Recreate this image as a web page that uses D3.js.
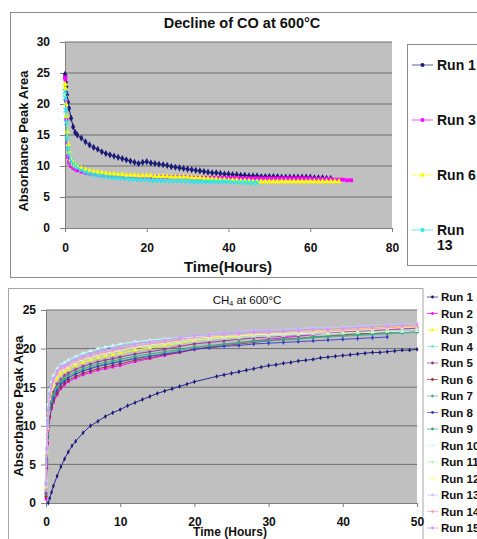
<!DOCTYPE html>
<html>
<head>
<meta charset="utf-8">
<script src="https://d3js.org/d3.v7.min.js"></script>
<style>
  body { margin: 0; background: #fff; }
  svg { display: block; font-family: "Liberation Sans", Arial, sans-serif; }
</style>
</head>
<body>
<div id="chart"></div>
<script>
// ---------- top chart: decline of CO ----------
const coRunNames = ["Run 1", "Run 3", "Run 6", "Run 13"];
const coXTicks = [0, 20, 40, 60, 80];
const coYTicks = [0, 5, 10, 15, 20, 25, 30];

const coTimes = [0, 0.1, 0.2, 0.3, 0.5, 0.75, 1, 1.5, 2, 2.5, 3,
  4, 5, 6, 7, 8, 9, 10, 11, 12, 13,
  14, 15, 16, 17, 18, 19, 20, 21, 22, 23,
  24, 25, 26, 27, 28, 29, 30, 31, 32, 33,
  34, 35, 36, 37, 38, 39, 40, 41, 42, 43,
  44, 45, 46, 47, 48, 49, 50, 51, 52, 53,
  54, 55, 56, 57, 58, 59, 60, 61, 62, 63,
  64, 65, 66, 67, 68, 69, 70, 71];

const coRun1 = [24.8, 24.5, 23.5, 22.8, 21.5, 20.3, 19.3, 17.7, 16.3, 15.4, 15.0,
  14.5, 13.9, 13.4, 13.0, 12.7, 12.3, 12.0, 11.8, 11.6, 11.4,
  11.2, 11.0, 10.8, 10.6, 10.4, 10.6, 10.7, 10.5, 10.4, 10.3,
  10.2, 10.1, 9.9, 9.8, 9.7, 9.6, 9.5, 9.4, 9.3, 9.2,
  9.1, 9.0, 8.9, 8.9, 8.8, 8.7, 8.7, 8.6, 8.6, 8.5,
  8.5, 8.4, 8.4, 8.4, 8.3, 8.3, 8.3, 8.3, 8.3, 8.2,
  8.2, 8.2, 8.2, 8.2, 8.2, 8.2, 8.2, 8.1, 8.1, 8.1,
  8.0, 8.0];
const coRun3 = [24.3, 24.0, 20.5, 17.5, 13.5, 11.5, 10.6, 10.0, 9.7, 9.5, 9.3,
  9.1, 8.9, 8.8, 8.7, 8.6, 8.5, 8.5, 8.4, 8.4, 8.4,
  8.3, 8.3, 8.3, 8.3, 8.2, 8.2, 8.2, 8.2, 8.2, 8.2,
  8.2, 8.2, 8.2, 8.2, 8.2, 8.2, 8.2, 8.1, 8.1, 8.1,
  8.1, 8.1, 8.1, 8.1, 8.1, 8.1, 8.1, 8.1, 8.1, 8.0,
  8.0, 8.0, 8.0, 8.0, 8.0, 8.0, 8.0, 8.0, 8.0, 8.0,
  8.0, 8.0, 8.0, 8.0, 8.0, 8.0, 8.0, 7.9, 7.9, 7.9,
  7.9, 7.9, 7.8, 7.8, 7.8, 7.7, 7.7];
const coRun6 = [23.2, 22.5, 20.0, 18.0, 15.5, 13.5, 12.3, 11.0, 10.4, 10.1, 9.9,
  9.6, 9.4, 9.2, 9.1, 9.0, 8.9, 8.8, 8.7, 8.7, 8.6,
  8.6, 8.5, 8.5, 8.5, 8.4, 8.4, 8.4, 8.4, 8.3, 8.3,
  8.3, 8.3, 8.2, 8.2, 8.2, 8.2, 8.2, 8.1, 8.1, 8.1,
  8.0, 8.0, 7.9, 7.9, 7.8, 7.8, 7.7, 7.7, 7.7, 7.6,
  7.6, 7.6, 7.5, 7.5, 7.5, 7.5, 7.5, 7.5, 7.5, 7.5,
  7.5, 7.5, 7.5, 7.5, 7.5, 7.5, 7.5, 7.5, 7.5, 7.5,
  7.5, 7.5, 7.5, 7.5];
const coRun13 = [22.0, 21.0, 19.0, 17.0, 14.5, 12.8, 11.8, 10.8, 10.3, 10.0, 9.7,
  9.3, 9.0, 8.8, 8.6, 8.5, 8.4, 8.3, 8.2, 8.1, 8.1,
  8.0, 8.0, 7.9, 7.9, 7.8, 7.8, 7.8, 7.7, 7.7, 7.7,
  7.6, 7.6, 7.6, 7.6, 7.6, 7.6, 7.6, 7.5, 7.5, 7.5,
  7.5, 7.5, 7.5, 7.5, 7.5, 7.5, 7.5, 7.4, 7.4, 7.4,
  7.4, 7.3, 7.3, 7.3];

// ---------- bottom chart: CH4 ----------
const ch4RunNames = ["Run 1", "Run 2", "Run 3", "Run 4", "Run 5", "Run 6", "Run 7", "Run 8",
  "Run 9", "Run 10", "Run 11", "Run 12", "Run 13", "Run 14", "Run 15"];
const ch4XTicks = [0, 10, 20, 30, 40, 50];
const ch4YTicks = [0, 5, 10, 15, 20, 25];

const ch4Run1Times = [0.3, 0.5, 0.75, 1, 1.5, 2, 2.5, 3, 3.5, 4,
  5, 6, 7, 8, 9, 10, 11, 12, 13, 14, 15, 16, 17, 18, 19, 20,
  23, 24, 25, 26, 27, 28, 29, 30, 31, 32, 33, 34, 35, 36,
  37, 38, 39, 40, 41, 42, 43, 44, 45, 46, 47, 48, 49, 50];
const ch4Run1 = [0, 0.6, 1.4, 2.2, 3.5, 4.7, 5.7, 6.6, 7.4, 8.0,
  9.1, 10.0, 10.6, 11.2, 11.7, 12.1, 12.6, 13.0, 13.4, 13.8, 14.2, 14.5, 14.8, 15.1, 15.4, 15.7,
  16.4, 16.6, 16.8, 17.0, 17.2, 17.4, 17.6, 17.8, 17.9, 18.1, 18.2, 18.4, 18.5, 18.6,
  18.8, 18.9, 19.0, 19.1, 19.2, 19.3, 19.4, 19.5, 19.5, 19.6, 19.7, 19.8, 19.8, 19.9];

const ch4Times = [0, 0.1, 0.2, 0.3, 0.5, 0.75, 1, 1.5, 2, 2.5, 3,
  4, 5, 6, 7, 8, 9, 10,
  12, 14, 16, 18, 20, 22, 24, 26, 28, 30, 32, 34, 36, 38, 40, 42, 44, 46, 48, 50];

const ch4Run2 = [0.5, 5.0, 7.5, 9.5, 11.0, 12.2, 13.0, 14.0, 14.8, 15.3, 15.7,
  16.2, 16.6, 16.9, 17.2, 17.4, 17.6, 17.8,
  18.3, 18.7, 19.1, 19.5, 19.9, 20.2, 20.5, 20.7, 21.0, 21.2, 21.4, 21.6, 21.8, 22.0, 22.2, 22.3, 22.4, 22.5, 22.6, 22.7];
const ch4Run3 = [1.5, 6.0, 9.3, 11.2, 13.1, 14.3, 15.1, 16.1, 16.7, 17.0, 17.3,
  17.8, 18.2, 18.5, 18.8, 19.0, 19.2, 19.4,
  19.8, 20.1, 20.4, 20.7, 21.0, 21.3, 21.5, 21.6, 21.8, 21.9, 22.0, 22.2, 22.3, 22.4, 22.5, 22.6, 22.7, 22.8, 22.9, 23.0];
const ch4Run4 = [2.5, 7.0, 10.5, 12.5, 14.5, 15.6, 16.4, 17.2, 17.8, 18.1, 18.4,
  18.9, 19.3, 19.6, 19.9, 20.1, 20.3, 20.5,
  20.8, 21.0, 21.2, 21.4, 21.6, 21.7, 21.8, 21.9, 22.0, 22.0, 22.1, 22.1, 22.2, 22.2, 22.3, 22.3, 22.4, 22.4, 22.5, 22.5];
const ch4Run5 = [1.0, 5.5, 8.7, 10.7, 12.4, 13.6, 14.4, 15.4, 16.0, 16.5, 16.8,
  17.3, 17.7, 18.0, 18.3, 18.5, 18.7, 18.9,
  19.3, 19.6, 19.9, 20.3, 20.6, 20.8, 21.0, 21.2, 21.4, 21.5, 21.6, 21.7, 21.9, 22.0, 22.1, 22.2, 22.3, 22.4, 22.5, 22.6];
const ch4Run6 = [0.8, 4.5, 7.8, 9.8, 11.2, 12.4, 13.2, 14.2, 15.0, 15.5, 15.9,
  16.4, 16.8, 17.1, 17.4, 17.6, 17.8, 18.0,
  18.5, 18.8, 19.2, 19.5, 19.9, 20.2, 20.4, 20.6, 20.8, 21.0, 21.2, 21.3, 21.5, 21.6, 21.8, 21.9, 22.0, 22.1, 22.2, 22.3];
const ch4Run7 = [1.2, 5.2, 8.2, 10.2, 11.8, 13.0, 13.8, 14.8, 15.5, 15.9, 16.3,
  16.8, 17.2, 17.5, 17.8, 18.0, 18.2, 18.4,
  18.8, 19.1, 19.4, 19.8, 20.1, 20.3, 20.5, 20.7, 20.9, 21.0, 21.1, 21.2, 21.4, 21.5, 21.6, 21.7, 21.8, 21.9, 22.0, 22.1];
const ch4Run8 = [1.4, 5.8, 8.5, 10.4, 11.6, 12.8, 13.6, 14.6, 15.4, 15.8, 16.2,
  16.7, 17.1, 17.4, 17.7, 17.9, 18.1, 18.3,
  18.7, 19.0, 19.3, 19.6, 19.9, 20.1, 20.3, 20.4, 20.6, 20.7, 20.8, 20.9, 21.0, 21.1, 21.2, 21.3, 21.4, 21.5];
const ch4Run9 = [1.8, 6.2, 8.8, 10.6, 12.0, 13.2, 14.0, 15.0, 15.8, 16.1, 16.5,
  17.0, 17.4, 17.7, 18.0, 18.2, 18.4, 18.6,
  19.0, 19.3, 19.6, 19.9, 20.2, 20.4, 20.6, 20.8, 21.0, 21.1, 21.2, 21.3, 21.5, 21.6, 21.7, 21.8, 21.9, 22.0, 22.1, 22.2];
const ch4Run10 = [3.0, 7.5, 11.0, 12.8, 14.6, 15.7, 16.5, 17.4, 17.9, 18.2, 18.5,
  19.0, 19.4, 19.7, 20.0, 20.2, 20.4, 20.6,
  20.9, 21.1, 21.3, 21.4, 21.5, 21.6, 21.7, 21.7, 21.8, 21.8, 21.9, 21.9, 22.0, 22.0, 22.0, 22.1, 22.1, 22.2, 22.2, 22.3];
const ch4Run11 = [2.2, 6.8, 9.8, 11.7, 13.5, 14.7, 15.5, 16.5, 17.1, 17.3, 17.6,
  18.1, 18.5, 18.8, 19.1, 19.3, 19.5, 19.7,
  20.1, 20.3, 20.6, 20.8, 21.1, 21.2, 21.4, 21.4, 21.6, 21.6, 21.7, 21.8, 21.9, 21.9, 22.0, 22.1, 22.2, 22.3, 22.4, 22.5];
const ch4Run12 = [2.0, 6.5, 9.6, 11.6, 13.6, 14.8, 15.6, 16.6, 17.2, 17.4, 17.7,
  18.2, 18.6, 18.9, 19.2, 19.4, 19.6, 19.8,
  20.2, 20.5, 20.7, 21.0, 21.3, 21.5, 21.6, 21.7, 21.9, 21.9, 22.0, 22.1, 22.2, 22.2, 22.3, 22.4, 22.5, 22.6, 22.7, 22.8];
const ch4Run13 = [2.7, 7.2, 10.2, 12.2, 14.0, 15.2, 16.0, 17.0, 17.6, 17.7, 18.0,
  18.5, 18.9, 19.2, 19.5, 19.7, 19.9, 20.1,
  20.5, 20.8, 21.1, 21.4, 21.7, 21.9, 22.1, 22.2, 22.4, 22.4, 22.5, 22.6, 22.7, 22.7, 22.8, 22.9, 23.0, 23.1, 23.2, 23.3];
const ch4Run14 = [1.6, 6.3, 9.5, 11.5, 13.7, 14.9, 15.7, 16.7, 17.3, 17.5, 17.8,
  18.3, 18.7, 19.0, 19.3, 19.5, 19.7, 19.9,
  20.3, 20.6, 20.8, 21.1, 21.4, 21.6, 21.7, 21.8, 22.0, 22.0, 22.1, 22.2, 22.3, 22.3, 22.4, 22.5, 22.6, 22.7, 22.8, 22.9];
const ch4Run15 = [2.4, 7.0, 10.0, 12.0, 14.1, 15.3, 16.1, 17.1, 17.7, 17.8, 18.1,
  18.6, 19.0, 19.3, 19.6, 19.8, 20.0, 20.2,
  20.6, 20.9, 21.1, 21.4, 21.7, 21.8, 22.0, 22.1, 22.2, 22.3, 22.3, 22.4, 22.5, 22.5, 22.6, 22.7, 22.8, 22.9, 23.0, 23.1];


class RunChart {
    constructor(_svg, _config) {
        this.svg = _svg;
        this.config = _config;

        this.initVis();
    }

    initVis() {
        let vis = this;
        let c = vis.config;

        vis.g = vis.svg.append("g");

        // chart area frame
        vis.g.append("rect")
            .attr("x", c.frame.x).attr("y", c.frame.y)
            .attr("width", c.frame.w).attr("height", c.frame.h)
            .attr("fill", "#fff")
            .attr("stroke", c.frame.stroke);

        vis.x = d3.scaleLinear().domain(c.xDomain).range([c.plot.left, c.plot.right]);
        vis.y = d3.scaleLinear().domain(c.yDomain).range([c.plot.bottom, c.plot.top]);

        vis.g.append("rect")
            .attr("x", c.plot.left).attr("y", c.plot.top)
            .attr("width", c.plot.right - c.plot.left)
            .attr("height", c.plot.bottom - c.plot.top)
            .attr("fill", "#c0c0c0");

        // gridlines
        vis.g.append("g")
            .selectAll("line")
            .data(c.yTicks.filter(d => d > c.yDomain[0]))
            .join("line")
            .attr("x1", c.plot.left).attr("x2", c.plot.right)
            .attr("y1", d => vis.y(d)).attr("y2", d => vis.y(d))
            .attr("stroke", c.gridColor)
            .attr("stroke-width", 1);

        vis.xAxis = d3.axisBottom(vis.x).tickValues(c.xTicks).tickSizeInner(4).tickSizeOuter(0).tickPadding(c.xPad);
        vis.yAxis = d3.axisLeft(vis.y).tickValues(c.yTicks).tickSizeInner(5).tickSizeOuter(0).tickPadding(c.yPad);

        vis.xG = vis.g.append("g")
            .attr("transform", `translate(0,${c.plot.bottom})`)
            .call(vis.xAxis);
        vis.yG = vis.g.append("g")
            .attr("transform", `translate(${c.plot.left},0)`)
            .call(vis.yAxis);

        [vis.xG, vis.yG].forEach(ax => {
            ax.attr("font-family", null).attr("font-size", null);
            ax.selectAll("path, line").attr("stroke", "#808080");
            ax.selectAll("text")
                .attr("fill", "#111")
                .attr("font-size", c.tickFont)
                .attr("font-weight", "bold");
        });

        // titles
        let title = vis.g.append("text")
            .attr("x", c.title.x).attr("y", c.title.y)
            .attr("dy", "0.35em")
            .attr("text-anchor", "middle")
            .attr("font-size", c.title.size)
            .attr("font-weight", c.title.weight)
            .attr("fill", "#111");
        c.title.parts.forEach(p => {
            let ts = title.append("tspan").text(p.text);
            if (p.sub) ts.attr("font-size", c.title.size * 0.62).attr("dy", "0.3em");
            else if (p.after) ts.attr("dy", "-0.18em");
        });

        vis.g.append("text")
            .attr("x", c.xTitle.x).attr("y", c.xTitle.y)
            .attr("dy", "0.35em")
            .attr("text-anchor", "middle")
            .attr("font-size", c.xTitle.size)
            .attr("font-weight", "bold")
            .attr("fill", "#111")
            .text(c.xTitle.text);

        vis.g.append("text")
            .attr("transform", `translate(${c.yTitle.x},${c.yTitle.y}) rotate(-90)`)
            .attr("dy", "0.35em")
            .attr("text-anchor", "middle")
            .attr("font-size", c.yTitle.size)
            .attr("font-weight", "bold")
            .attr("fill", "#111")
            .text(c.yTitle.text);

        vis.wrangleData();
    }

    wrangleData() {
        let vis = this;

        vis.displayData = vis.config.series.map(s => ({
            name: s.name,
            color: s.color,
            symbol: s.symbol,
            points: s.values.map((v, i) => ({ t: s.times[i], v: v }))
        }));

        vis.updateVis();
    }

    symbolPath(name, size) {
        let types = {
            diamond: d3.symbolDiamond, square: d3.symbolSquare, triangle: d3.symbolTriangle,
            x: d3.symbolX, star: d3.symbolStar, circle: d3.symbolCircle, plus: d3.symbolCross
        };
        return d3.symbol().type(types[name]).size(size)();
    }

    drawMarker(sel, s, size) {
        let vis = this;
        let stroked = s.symbol === "x";
        sel.attr("d", vis.symbolPath(s.symbol, size))
            .attr("fill", stroked ? "none" : s.color)
            .attr("stroke", stroked ? s.color : "none")
            .attr("stroke-width", stroked ? 1.2 : 0);
    }

    updateVis() {
        let vis = this;
        let c = vis.config;

        let line = d3.line()
            .x(d => vis.x(d.t))
            .y(d => vis.y(d.v));

        let seriesG = vis.g.append("g")
            .selectAll("g.series")
            .data(vis.displayData)
            .join("g")
            .attr("class", "series");

        seriesG.append("path")
            .attr("d", d => line(d.points))
            .attr("fill", "none")
            .attr("stroke", d => d.color)
            .attr("stroke-width", c.lineWidth);

        seriesG.each(function (s) {
            d3.select(this).selectAll("path.mk")
                .data(s.points)
                .join("path")
                .attr("class", "mk")
                .attr("transform", d => `translate(${vis.x(d.t)},${vis.y(d.v)})`)
                .call(sel => vis.drawMarker(sel, s, c.markerSize));
        });

        // legend
        let L = c.legend;
        if (L.box) {
            vis.g.append("rect")
                .attr("x", L.box.x).attr("y", L.box.y)
                .attr("width", L.box.w).attr("height", L.box.h)
                .attr("fill", "#fff")
                .attr("stroke", "#8c8c8c");
        }

        let items = vis.g.append("g")
            .selectAll("g")
            .data(vis.displayData)
            .join("g")
            .attr("transform", (d, i) => `translate(0,${L.y0 + i * L.dy})`);

        items.append("line")
            .attr("x1", L.x1).attr("x2", L.x2)
            .attr("stroke", d => d.color)
            .attr("stroke-opacity", 0.7)
            .attr("stroke-width", 1);

        items.append("circle")
            .attr("cx", (L.x1 + L.x2) / 2)
            .attr("r", L.markerR)
            .attr("fill", d => d.color);

        items.append("text")
            .attr("x", L.textX)
            .attr("dy", "0.35em")
            .attr("font-size", L.size)
            .attr("font-weight", "bold")
            .attr("fill", "#111")
            .each(function (s) {
                let t = d3.select(this);
                t.text(s.name);
                // wrap long names onto two lines like the original legend does
                if (L.maxWidth && this.getComputedTextLength() > L.maxWidth) {
                    let words = s.name.split(" ");
                    t.text(null);
                    t.append("tspan").attr("x", L.textX).text(words[0]);
                    t.append("tspan").attr("x", L.textX).attr("dy", "1.05em").text(words.slice(1).join(" "));
                }
            });
    }
}

const svg = d3.select("#chart")
    .append("svg")
    .attr("width", 477)
    .attr("height", 539);

const coColors = ["#1a1a78", "#ff00ff", "#ffff00", "#2ee6e6"];
const coSymbols = ["diamond", "square", "triangle", "x"];
const coValues = [coRun1, coRun3, coRun6, coRun13];

new RunChart(svg, {
    frame: { x: 10.5, y: 12.5, w: 480, h: 265, stroke: "#8c8c8c" },
    plot: { left: 65, right: 392, top: 42, bottom: 228 },
    xDomain: [0, 80], yDomain: [0, 30],
    xTicks: coXTicks, yTicks: coYTicks,
    xPad: 11, yPad: 10, tickFont: 12,
    gridColor: "#6e6e6e",
    lineWidth: 1, markerSize: 15,
    title: { x: 242, y: 23, size: 14.5, weight: "bold", parts: [{ text: "Decline of CO at 600°C" }] },
    xTitle: { x: 228, y: 267, size: 15, text: "Time(Hours)" },
    yTitle: { x: 23, y: 141, size: 13, text: "Absorbance Peak Area" },
    legend: { box: { x: 407.5, y: 44.5, w: 100, h: 221 }, y0: 65, dy: 55, x1: 412, x2: 433,
              textX: 437, size: 14, markerR: 2, maxWidth: 39 },
    series: coRunNames.map((n, i) => ({ name: n, times: coTimes, values: coValues[i],
                                       color: coColors[i], symbol: coSymbols[i] }))
});

const ch4Colors = ["#1a1a80", "#ff00ff", "#ffff00", "#80dede", "#993399", "#993333", "#5aa8a8", "#3a3acc",
  "#33aa77", "#d6fbfb", "#bdf2c4", "#ffff99", "#c8c4ff", "#ff99cc", "#cc99ff"];
const ch4Symbols = ["diamond", "square", "triangle", "x", "star", "circle", "plus", "diamond",
  "square", "triangle", "x", "star", "circle", "plus", "diamond"];
const ch4Values = [ch4Run1, ch4Run2, ch4Run3, ch4Run4, ch4Run5, ch4Run6, ch4Run7, ch4Run8,
  ch4Run9, ch4Run10, ch4Run11, ch4Run12, ch4Run13, ch4Run14, ch4Run15];

new RunChart(svg, {
    frame: { x: 8.5, y: 288.5, w: 414.5, h: 260, stroke: "#a6a6a6" },
    plot: { left: 46, right: 417, top: 310, bottom: 503 },
    xDomain: [0, 50], yDomain: [0, 25],
    xTicks: ch4XTicks, yTicks: ch4YTicks,
    xPad: 10, yPad: 5, tickFont: 12,
    gridColor: "#707070",
    lineWidth: 0.9, markerSize: 7,
    title: { x: 247, y: 300, size: 11.5, weight: "normal",
             parts: [{ text: "CH" }, { text: "4", sub: true }, { text: " at 600°C", after: true }] },
    xTitle: { x: 230, y: 532, size: 12, text: "Time (Hours)" },
    yTitle: { x: 18, y: 406, size: 13, text: "Absorbance Peak Area" },
    legend: { y0: 297, dy: 16.5, x1: 427, x2: 438, textX: 441, size: 11.5, markerR: 1.4 },
    series: ch4RunNames.map((n, i) => ({ name: n, times: i === 0 ? ch4Run1Times : ch4Times,
                                        values: ch4Values[i], color: ch4Colors[i], symbol: ch4Symbols[i] }))
});
</script>
</body>
</html>
